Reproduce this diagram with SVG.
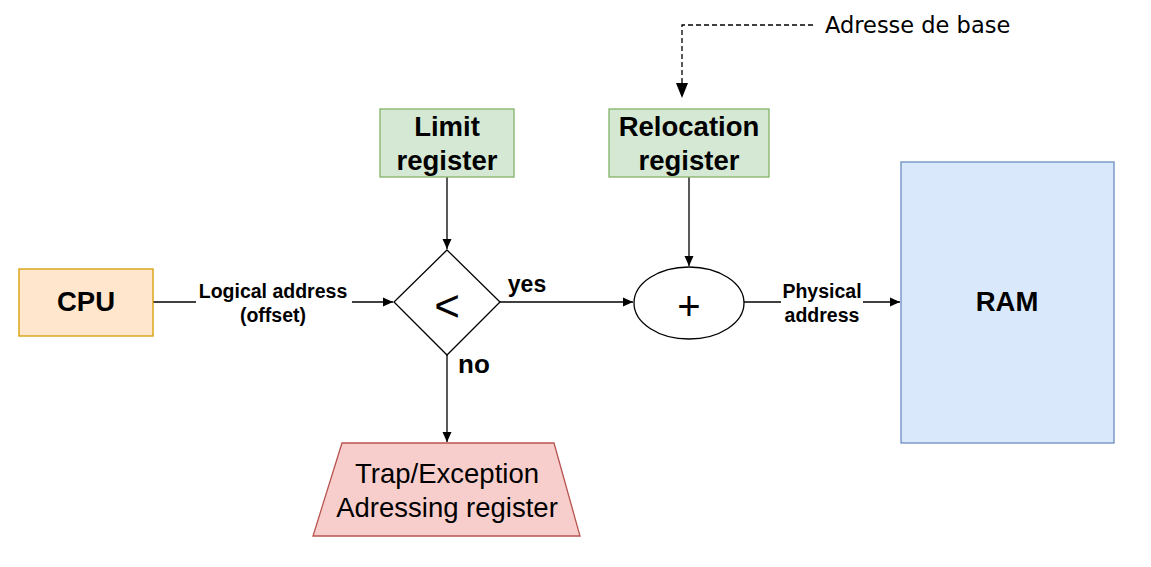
<svg xmlns="http://www.w3.org/2000/svg" width="1151" height="567" viewBox="0 0 1151 567">
<style>
.b{font-family:"Liberation Sans",Arial,sans-serif;font-weight:bold;fill:#000;text-anchor:middle;}
.n{font-family:"Liberation Sans",Arial,sans-serif;fill:#000;text-anchor:middle;}
.e{fill:none;stroke:#000;stroke-width:1.3;}
.lbl{font-size:19.5px;}
.big{font-size:27.5px;}
</style>
<defs>
<marker id="ah" markerWidth="12" markerHeight="12" refX="11" refY="6" orient="auto" markerUnits="userSpaceOnUse">
<path d="M1,1.5 L11,6 L1,10.5 Z" fill="#000"/>
</marker>
</defs>
<rect width="1151" height="567" fill="#fff"/>
<g id="connectors">
<line class="e" x1="153" y1="302" x2="393" y2="302" marker-end="url(#ah)"/>
<line class="e" x1="447" y1="177" x2="447" y2="249" marker-end="url(#ah)"/>
<line class="e" x1="500" y1="302" x2="633" y2="302" marker-end="url(#ah)"/>
<line class="e" x1="689" y1="177" x2="689" y2="266" marker-end="url(#ah)"/>
<line class="e" x1="744" y1="302" x2="900" y2="302" marker-end="url(#ah)"/>
<line class="e" x1="447" y1="355" x2="447" y2="442" marker-end="url(#ah)"/>
<polyline fill="none" stroke="#000" stroke-width="1.3" stroke-dasharray="5,3" points="813,25 682,25 682,84"/>
<path d="M676,83 L688,83 L682,98 Z" fill="#000"/>
<rect x="196" y="280" width="156" height="44" fill="#fff"/>
<text class="b lbl" x="273" y="298">Logical address</text>
<text class="b lbl" x="273" y="322">(offset)</text>
<rect x="781" y="280" width="82" height="44" fill="#fff"/>
<text class="b lbl" x="822" y="298">Physical</text>
<text class="b lbl" x="822" y="322">address</text>
<text class="b" x="527" y="292" font-size="23">yes</text>
<text class="b" x="474" y="373" font-size="26">no</text>
<text x="825" y="33" font-family="DejaVu Sans, Verdana, sans-serif" font-size="22.5" fill="#000">Adresse de base</text>
</g>
<g id="cpu">
<rect x="19" y="269" width="134" height="67" fill="#ffe6cc" stroke="#d79b00" stroke-width="1.3"/>
<text class="b big" x="86" y="311">CPU</text>
</g>
<g id="limit">
<rect x="380" y="109" width="134" height="68" fill="#d5e8d4" stroke="#82b366" stroke-width="1.3"/>
<text class="b big" x="447" y="136">Limit</text>
<text class="b big" x="447" y="170">register</text>
</g>
<g id="relocation">
<rect x="609" y="109" width="160" height="68" fill="#d5e8d4" stroke="#82b366" stroke-width="1.3"/>
<text class="b big" x="689" y="136">Relocation</text>
<text class="b big" x="689" y="170">register</text>
</g>
<g id="compare">
<polygon points="447,250 500,302 447,355 394,302" fill="#fff" stroke="#000" stroke-width="1.3"/>
<text class="n" x="447" y="321" font-size="44">&lt;</text>
</g>
<g id="adder">
<ellipse cx="689" cy="303" rx="55" ry="36" fill="#fff" stroke="#000" stroke-width="1.3"/>
<text class="n" x="689" y="320" font-size="40">+</text>
</g>
<g id="ram">
<rect x="901" y="162" width="213" height="281" fill="#dae8fc" stroke="#6c8ebf" stroke-width="1.3"/>
<text class="b big" x="1007" y="311">RAM</text>
</g>
<g id="trap">
<polygon points="342,443 554,443 580,536 313,536" fill="#f8cecc" stroke="#b85450" stroke-width="1.3"/>
<text class="n big" x="447" y="483">Trap/Exception</text>
<text class="n big" x="447" y="517">Adressing register</text>
</g>
</svg>
